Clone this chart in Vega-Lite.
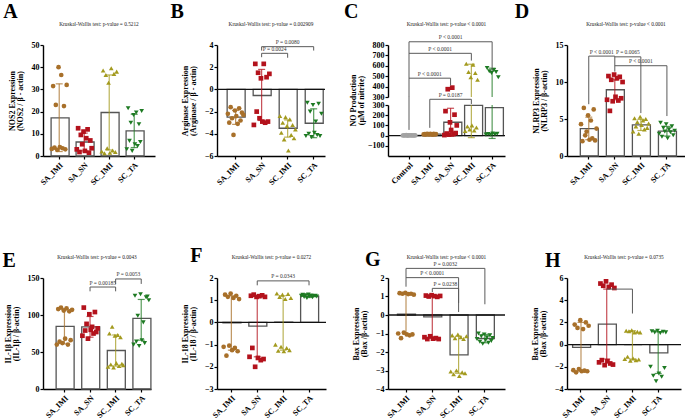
{
  "$schema": "https://vega.github.io/schema/vega-lite/v6.json",
  "background": "white",
  "padding": {"left": 2, "top": 2, "right": 0, "bottom": 0},
  "columns": 4,
  "align": "none",
  "bounds": "flush",
  "spacing": {"row": 122, "column": 62},
  "resolve": {"scale": {"xOffset": "independent"}},
  "datasets": {
    "summary": [
      {"panel": "A", "group": "SA_IMI", "mean": 17.2, "lo": 2.0, "hi": 32.5},
      {"panel": "A", "group": "SA_SN", "mean": 6.3, "lo": 2.3, "hi": 10.3},
      {"panel": "A", "group": "SC_IMI", "mean": 19.6, "lo": 2.7, "hi": 36.5},
      {"panel": "A", "group": "SC_TA", "mean": 11.3, "lo": 3.8, "hi": 18.8},
      {"panel": "B", "group": "SA_IMI", "mean": -2.5, "lo": -3.15, "hi": -1.9},
      {"panel": "B", "group": "SA_SN", "mean": -0.55, "lo": -2.8, "hi": 1.8},
      {"panel": "B", "group": "SC_IMI", "mean": -3.5, "lo": -4.3, "hi": -2.75},
      {"panel": "B", "group": "SC_TA", "mean": -3.05, "lo": -4.35, "hi": -1.75},
      {"panel": "C", "group": "Control", "mean": 2, "lo": 1, "hi": 3},
      {"panel": "C", "group": "SA_IMI", "mean": 13.5, "lo": 11, "hi": 16},
      {"panel": "C", "group": "SA_SN", "mean": 131, "lo": -6, "hi": 268},
      {"panel": "C", "group": "SC_IMI", "mean": 297, "lo": -20, "hi": 615},
      {"panel": "C", "group": "SC_TA", "mean": 274, "lo": -28, "hi": 577},
      {"panel": "D", "group": "SA_IMI", "mean": 3.7, "lo": 2.2, "hi": 5.25},
      {"panel": "D", "group": "SA_SN", "mean": 8.95, "lo": 7.6, "hi": 10.3},
      {"panel": "D", "group": "SC_IMI", "mean": 4.2, "lo": 3.45, "hi": 4.95},
      {"panel": "D", "group": "SC_TA", "mean": 3.35, "lo": 2.7, "hi": 4.0},
      {"panel": "E", "group": "SA_IMI", "mean": 84.5, "lo": 61, "hi": 108.5},
      {"panel": "E", "group": "SA_SN", "mean": 84, "lo": 70, "hi": 98},
      {"panel": "E", "group": "SC_IMI", "mean": 52, "lo": 31, "hi": 73},
      {"panel": "E", "group": "SC_TA", "mean": 95.5, "lo": 66, "hi": 121},
      {"panel": "F", "group": "SA_IMI", "mean": -0.02, "lo": -1.25, "hi": 1.2},
      {"panel": "F", "group": "SA_SN", "mean": -0.17, "lo": -1.55, "hi": 1.2},
      {"panel": "F", "group": "SC_IMI", "mean": 0.01, "lo": -1.25, "hi": 1.2},
      {"panel": "F", "group": "SC_TA", "mean": 1.18, "lo": 1.12, "hi": 1.24},
      {"panel": "G", "group": "SA_IMI", "mean": 0.05, "lo": -1.05, "hi": 1.15},
      {"panel": "G", "group": "SA_SN", "mean": -0.1, "lo": -1.25, "hi": 1.05},
      {"panel": "G", "group": "SC_IMI", "mean": -2.15, "lo": -3.15, "hi": -1.15},
      {"panel": "G", "group": "SC_TA", "mean": -1.27, "lo": -1.5, "hi": -1.05},
      {"panel": "H", "group": "SA_IMI", "mean": -0.25, "lo": -2.4, "hi": 2.0},
      {"panel": "H", "group": "SA_SN", "mean": 1.85, "lo": -1.3, "hi": 5.0},
      {"panel": "H", "group": "SC_IMI", "mean": 0.0, "lo": -1.3, "hi": 1.25},
      {"panel": "H", "group": "SC_TA", "mean": -0.75, "lo": -2.6, "hi": 1.15}
    ],
    "points": [
      {"panel": "A", "group": "SA_IMI", "value": 3.2}, {"panel": "A", "group": "SA_IMI", "value": 31.5}, {"panel": "A", "group": "SA_IMI", "value": 3.8}, {"panel": "A", "group": "SA_IMI", "value": 23}, {"panel": "A", "group": "SA_IMI", "value": 2.8}, {"panel": "A", "group": "SA_IMI", "value": 40}, {"panel": "A", "group": "SA_IMI", "value": 4.0}, {"panel": "A", "group": "SA_IMI", "value": 36.5}, {"panel": "A", "group": "SA_IMI", "value": 3.5}, {"panel": "A", "group": "SA_IMI", "value": 22.5}, {"panel": "A", "group": "SA_IMI", "value": 3.0}, {"panel": "A", "group": "SA_IMI", "value": 32},
      {"panel": "A", "group": "SA_SN", "value": 3}, {"panel": "A", "group": "SA_SN", "value": 12.5}, {"panel": "A", "group": "SA_SN", "value": 1.8}, {"panel": "A", "group": "SA_SN", "value": 9.5}, {"panel": "A", "group": "SA_SN", "value": 5.3}, {"panel": "A", "group": "SA_SN", "value": 11}, {"panel": "A", "group": "SA_SN", "value": 2.3}, {"panel": "A", "group": "SA_SN", "value": 8}, {"panel": "A", "group": "SA_SN", "value": 12}, {"panel": "A", "group": "SA_SN", "value": 1.5}, {"panel": "A", "group": "SA_SN", "value": 7}, {"panel": "A", "group": "SA_SN", "value": 3.5},
      {"panel": "A", "group": "SC_IMI", "value": 2.0}, {"panel": "A", "group": "SC_IMI", "value": 38.5}, {"panel": "A", "group": "SC_IMI", "value": 1.2}, {"panel": "A", "group": "SC_IMI", "value": 36.5}, {"panel": "A", "group": "SC_IMI", "value": 3.5}, {"panel": "A", "group": "SC_IMI", "value": 33}, {"panel": "A", "group": "SC_IMI", "value": 1.5}, {"panel": "A", "group": "SC_IMI", "value": 39.5}, {"panel": "A", "group": "SC_IMI", "value": 2.5}, {"panel": "A", "group": "SC_IMI", "value": 37}, {"panel": "A", "group": "SC_IMI", "value": 1.8}, {"panel": "A", "group": "SC_IMI", "value": 38},
      {"panel": "A", "group": "SC_TA", "value": 3.0}, {"panel": "A", "group": "SC_TA", "value": 21.5}, {"panel": "A", "group": "SC_TA", "value": 6.8}, {"panel": "A", "group": "SC_TA", "value": 15}, {"panel": "A", "group": "SC_TA", "value": 2.3}, {"panel": "A", "group": "SC_TA", "value": 18.5}, {"panel": "A", "group": "SC_TA", "value": 5.3}, {"panel": "A", "group": "SC_TA", "value": 19.6}, {"panel": "A", "group": "SC_TA", "value": 4.5}, {"panel": "A", "group": "SC_TA", "value": 14.3}, {"panel": "A", "group": "SC_TA", "value": 6.3}, {"panel": "A", "group": "SC_TA", "value": 20.3},
      {"panel": "B", "group": "SA_IMI", "value": -2.2}, {"panel": "B", "group": "SA_IMI", "value": -3.0}, {"panel": "B", "group": "SA_IMI", "value": -1.6}, {"panel": "B", "group": "SA_IMI", "value": -2.6}, {"panel": "B", "group": "SA_IMI", "value": -4.1}, {"panel": "B", "group": "SA_IMI", "value": -1.9}, {"panel": "B", "group": "SA_IMI", "value": -2.4}, {"panel": "B", "group": "SA_IMI", "value": -3.1}, {"panel": "B", "group": "SA_IMI", "value": -1.7}, {"panel": "B", "group": "SA_IMI", "value": -2.8}, {"panel": "B", "group": "SA_IMI", "value": -2.1}, {"panel": "B", "group": "SA_IMI", "value": -2.3},
      {"panel": "B", "group": "SA_SN", "value": -3.2}, {"panel": "B", "group": "SA_SN", "value": 2.3}, {"panel": "B", "group": "SA_SN", "value": -2.0}, {"panel": "B", "group": "SA_SN", "value": 1.5}, {"panel": "B", "group": "SA_SN", "value": -2.6}, {"panel": "B", "group": "SA_SN", "value": 1.0}, {"panel": "B", "group": "SA_SN", "value": -2.9}, {"panel": "B", "group": "SA_SN", "value": 2.3}, {"panel": "B", "group": "SA_SN", "value": -3.0}, {"panel": "B", "group": "SA_SN", "value": 1.1}, {"panel": "B", "group": "SA_SN", "value": -2.9}, {"panel": "B", "group": "SA_SN", "value": 1.4},
      {"panel": "B", "group": "SC_IMI", "value": -2.4}, {"panel": "B", "group": "SC_IMI", "value": -3.9}, {"panel": "B", "group": "SC_IMI", "value": -3.0}, {"panel": "B", "group": "SC_IMI", "value": -4.5}, {"panel": "B", "group": "SC_IMI", "value": -2.5}, {"panel": "B", "group": "SC_IMI", "value": -3.3}, {"panel": "B", "group": "SC_IMI", "value": -5.5}, {"panel": "B", "group": "SC_IMI", "value": -2.7}, {"panel": "B", "group": "SC_IMI", "value": -4.1}, {"panel": "B", "group": "SC_IMI", "value": -3.2}, {"panel": "B", "group": "SC_IMI", "value": -4.4}, {"panel": "B", "group": "SC_IMI", "value": -3.6},
      {"panel": "B", "group": "SC_TA", "value": -4.2}, {"panel": "B", "group": "SC_TA", "value": -1.2}, {"panel": "B", "group": "SC_TA", "value": -4.0}, {"panel": "B", "group": "SC_TA", "value": -2.0}, {"panel": "B", "group": "SC_TA", "value": -4.3}, {"panel": "B", "group": "SC_TA", "value": -1.4}, {"panel": "B", "group": "SC_TA", "value": -3.9}, {"panel": "B", "group": "SC_TA", "value": -2.9}, {"panel": "B", "group": "SC_TA", "value": -4.1}, {"panel": "B", "group": "SC_TA", "value": -1.3}, {"panel": "B", "group": "SC_TA", "value": -4.2}, {"panel": "B", "group": "SC_TA", "value": -2.2},
      {"panel": "C", "group": "Control", "value": 1}, {"panel": "C", "group": "Control", "value": 3}, {"panel": "C", "group": "Control", "value": 2}, {"panel": "C", "group": "Control", "value": 4}, {"panel": "C", "group": "Control", "value": 0.5}, {"panel": "C", "group": "Control", "value": 2.5}, {"panel": "C", "group": "Control", "value": 1.5}, {"panel": "C", "group": "Control", "value": 3.5}, {"panel": "C", "group": "Control", "value": 2}, {"panel": "C", "group": "Control", "value": 1}, {"panel": "C", "group": "Control", "value": 3}, {"panel": "C", "group": "Control", "value": 2},
      {"panel": "C", "group": "SA_IMI", "value": 12}, {"panel": "C", "group": "SA_IMI", "value": 15}, {"panel": "C", "group": "SA_IMI", "value": 10}, {"panel": "C", "group": "SA_IMI", "value": 18}, {"panel": "C", "group": "SA_IMI", "value": 14}, {"panel": "C", "group": "SA_IMI", "value": 11}, {"panel": "C", "group": "SA_IMI", "value": 16}, {"panel": "C", "group": "SA_IMI", "value": 13}, {"panel": "C", "group": "SA_IMI", "value": 9}, {"panel": "C", "group": "SA_IMI", "value": 17}, {"panel": "C", "group": "SA_IMI", "value": 12}, {"panel": "C", "group": "SA_IMI", "value": 15},
      {"panel": "C", "group": "SA_SN", "value": 5}, {"panel": "C", "group": "SA_SN", "value": 240}, {"panel": "C", "group": "SA_SN", "value": 20}, {"panel": "C", "group": "SA_SN", "value": 375}, {"panel": "C", "group": "SA_SN", "value": 10}, {"panel": "C", "group": "SA_SN", "value": 130}, {"panel": "C", "group": "SA_SN", "value": 55}, {"panel": "C", "group": "SA_SN", "value": 390}, {"panel": "C", "group": "SA_SN", "value": 15}, {"panel": "C", "group": "SA_SN", "value": 205}, {"panel": "C", "group": "SA_SN", "value": 25}, {"panel": "C", "group": "SA_SN", "value": 100},
      {"panel": "C", "group": "SC_IMI", "value": 45}, {"panel": "C", "group": "SC_IMI", "value": 620}, {"panel": "C", "group": "SC_IMI", "value": 90}, {"panel": "C", "group": "SC_IMI", "value": 540}, {"panel": "C", "group": "SC_IMI", "value": 60}, {"panel": "C", "group": "SC_IMI", "value": 490}, {"panel": "C", "group": "SC_IMI", "value": 100}, {"panel": "C", "group": "SC_IMI", "value": 610}, {"panel": "C", "group": "SC_IMI", "value": 50}, {"panel": "C", "group": "SC_IMI", "value": 530}, {"panel": "C", "group": "SC_IMI", "value": 80}, {"panel": "C", "group": "SC_IMI", "value": 465},
      {"panel": "C", "group": "SC_TA", "value": 10}, {"panel": "C", "group": "SC_TA", "value": 578}, {"panel": "C", "group": "SC_TA", "value": 15}, {"panel": "C", "group": "SC_TA", "value": 548}, {"panel": "C", "group": "SC_TA", "value": 8}, {"panel": "C", "group": "SC_TA", "value": 530}, {"panel": "C", "group": "SC_TA", "value": 20}, {"panel": "C", "group": "SC_TA", "value": 560}, {"panel": "C", "group": "SC_TA", "value": 12}, {"panel": "C", "group": "SC_TA", "value": 540}, {"panel": "C", "group": "SC_TA", "value": 18}, {"panel": "C", "group": "SC_TA", "value": 490},
      {"panel": "D", "group": "SA_IMI", "value": 4.3}, {"panel": "D", "group": "SA_IMI", "value": 2.0}, {"panel": "D", "group": "SA_IMI", "value": 6.5}, {"panel": "D", "group": "SA_IMI", "value": 2.8}, {"panel": "D", "group": "SA_IMI", "value": 3.3}, {"panel": "D", "group": "SA_IMI", "value": 5.5}, {"panel": "D", "group": "SA_IMI", "value": 2.2}, {"panel": "D", "group": "SA_IMI", "value": 4.8}, {"panel": "D", "group": "SA_IMI", "value": 2.4}, {"panel": "D", "group": "SA_IMI", "value": 6.3}, {"panel": "D", "group": "SA_IMI", "value": 2.1}, {"panel": "D", "group": "SA_IMI", "value": 3.7},
      {"panel": "D", "group": "SA_SN", "value": 7.6}, {"panel": "D", "group": "SA_SN", "value": 10.8}, {"panel": "D", "group": "SA_SN", "value": 6.1}, {"panel": "D", "group": "SA_SN", "value": 10.3}, {"panel": "D", "group": "SA_SN", "value": 7.4}, {"panel": "D", "group": "SA_SN", "value": 11.0}, {"panel": "D", "group": "SA_SN", "value": 8.0}, {"panel": "D", "group": "SA_SN", "value": 10.5}, {"panel": "D", "group": "SA_SN", "value": 7.5}, {"panel": "D", "group": "SA_SN", "value": 10.7}, {"panel": "D", "group": "SA_SN", "value": 7.8}, {"panel": "D", "group": "SA_SN", "value": 10.0},
      {"panel": "D", "group": "SC_IMI", "value": 3.3}, {"panel": "D", "group": "SC_IMI", "value": 5.1}, {"panel": "D", "group": "SC_IMI", "value": 4.0}, {"panel": "D", "group": "SC_IMI", "value": 4.6}, {"panel": "D", "group": "SC_IMI", "value": 3.0}, {"panel": "D", "group": "SC_IMI", "value": 5.3}, {"panel": "D", "group": "SC_IMI", "value": 4.2}, {"panel": "D", "group": "SC_IMI", "value": 4.8}, {"panel": "D", "group": "SC_IMI", "value": 3.6}, {"panel": "D", "group": "SC_IMI", "value": 5.0}, {"panel": "D", "group": "SC_IMI", "value": 3.8}, {"panel": "D", "group": "SC_IMI", "value": 4.4},
      {"panel": "D", "group": "SC_TA", "value": 3.0}, {"panel": "D", "group": "SC_TA", "value": 4.5}, {"panel": "D", "group": "SC_TA", "value": 2.6}, {"panel": "D", "group": "SC_TA", "value": 3.8}, {"panel": "D", "group": "SC_TA", "value": 3.3}, {"panel": "D", "group": "SC_TA", "value": 4.3}, {"panel": "D", "group": "SC_TA", "value": 2.4}, {"panel": "D", "group": "SC_TA", "value": 3.6}, {"panel": "D", "group": "SC_TA", "value": 3.2}, {"panel": "D", "group": "SC_TA", "value": 4.0}, {"panel": "D", "group": "SC_TA", "value": 2.8}, {"panel": "D", "group": "SC_TA", "value": 3.4},
      {"panel": "E", "group": "SA_IMI", "value": 60}, {"panel": "E", "group": "SA_IMI", "value": 108}, {"panel": "E", "group": "SA_IMI", "value": 64}, {"panel": "E", "group": "SA_IMI", "value": 110}, {"panel": "E", "group": "SA_IMI", "value": 62}, {"panel": "E", "group": "SA_IMI", "value": 106}, {"panel": "E", "group": "SA_IMI", "value": 68}, {"panel": "E", "group": "SA_IMI", "value": 109}, {"panel": "E", "group": "SA_IMI", "value": 60}, {"panel": "E", "group": "SA_IMI", "value": 105}, {"panel": "E", "group": "SA_IMI", "value": 66}, {"panel": "E", "group": "SA_IMI", "value": 107},
      {"panel": "E", "group": "SA_SN", "value": 72}, {"panel": "E", "group": "SA_SN", "value": 110}, {"panel": "E", "group": "SA_SN", "value": 79}, {"panel": "E", "group": "SA_SN", "value": 88}, {"panel": "E", "group": "SA_SN", "value": 68}, {"panel": "E", "group": "SA_SN", "value": 101}, {"panel": "E", "group": "SA_SN", "value": 80}, {"panel": "E", "group": "SA_SN", "value": 84}, {"panel": "E", "group": "SA_SN", "value": 75}, {"panel": "E", "group": "SA_SN", "value": 104}, {"panel": "E", "group": "SA_SN", "value": 77}, {"panel": "E", "group": "SA_SN", "value": 82},
      {"panel": "E", "group": "SC_IMI", "value": 30}, {"panel": "E", "group": "SC_IMI", "value": 75}, {"panel": "E", "group": "SC_IMI", "value": 33}, {"panel": "E", "group": "SC_IMI", "value": 84}, {"panel": "E", "group": "SC_IMI", "value": 29}, {"panel": "E", "group": "SC_IMI", "value": 72}, {"panel": "E", "group": "SC_IMI", "value": 35}, {"panel": "E", "group": "SC_IMI", "value": 73}, {"panel": "E", "group": "SC_IMI", "value": 31}, {"panel": "E", "group": "SC_IMI", "value": 70}, {"panel": "E", "group": "SC_IMI", "value": 34}, {"panel": "E", "group": "SC_IMI", "value": 32},
      {"panel": "E", "group": "SC_TA", "value": 60}, {"panel": "E", "group": "SC_TA", "value": 126}, {"panel": "E", "group": "SC_TA", "value": 64}, {"panel": "E", "group": "SC_TA", "value": 99}, {"panel": "E", "group": "SC_TA", "value": 58}, {"panel": "E", "group": "SC_TA", "value": 128}, {"panel": "E", "group": "SC_TA", "value": 66}, {"panel": "E", "group": "SC_TA", "value": 90}, {"panel": "E", "group": "SC_TA", "value": 62}, {"panel": "E", "group": "SC_TA", "value": 124}, {"panel": "E", "group": "SC_TA", "value": 125}, {"panel": "E", "group": "SC_TA", "value": 120},
      {"panel": "F", "group": "SA_IMI", "value": -1.1}, {"panel": "F", "group": "SA_IMI", "value": 1.25}, {"panel": "F", "group": "SA_IMI", "value": -1.5}, {"panel": "F", "group": "SA_IMI", "value": 1.15}, {"panel": "F", "group": "SA_IMI", "value": -1.05}, {"panel": "F", "group": "SA_IMI", "value": 1.3}, {"panel": "F", "group": "SA_IMI", "value": -1.25}, {"panel": "F", "group": "SA_IMI", "value": 1.1}, {"panel": "F", "group": "SA_IMI", "value": -1.15}, {"panel": "F", "group": "SA_IMI", "value": 1.2}, {"panel": "F", "group": "SA_IMI", "value": -1.3}, {"panel": "F", "group": "SA_IMI", "value": 1.05},
      {"panel": "F", "group": "SA_SN", "value": -1.55}, {"panel": "F", "group": "SA_SN", "value": 1.2}, {"panel": "F", "group": "SA_SN", "value": -1.15}, {"panel": "F", "group": "SA_SN", "value": 1.25}, {"panel": "F", "group": "SA_SN", "value": -2.0}, {"panel": "F", "group": "SA_SN", "value": 1.15}, {"panel": "F", "group": "SA_SN", "value": -1.6}, {"panel": "F", "group": "SA_SN", "value": 1.18}, {"panel": "F", "group": "SA_SN", "value": -1.7}, {"panel": "F", "group": "SA_SN", "value": 1.22}, {"panel": "F", "group": "SA_SN", "value": -1.65}, {"panel": "F", "group": "SA_SN", "value": 1.15},
      {"panel": "F", "group": "SC_IMI", "value": -1.0}, {"panel": "F", "group": "SC_IMI", "value": 1.3}, {"panel": "F", "group": "SC_IMI", "value": -1.28}, {"panel": "F", "group": "SC_IMI", "value": 1.15}, {"panel": "F", "group": "SC_IMI", "value": -1.1}, {"panel": "F", "group": "SC_IMI", "value": 1.25}, {"panel": "F", "group": "SC_IMI", "value": -1.3}, {"panel": "F", "group": "SC_IMI", "value": 1.05}, {"panel": "F", "group": "SC_IMI", "value": -1.15}, {"panel": "F", "group": "SC_IMI", "value": 1.28}, {"panel": "F", "group": "SC_IMI", "value": -1.25}, {"panel": "F", "group": "SC_IMI", "value": 1.1},
      {"panel": "F", "group": "SC_TA", "value": 1.2}, {"panel": "F", "group": "SC_TA", "value": 1.24}, {"panel": "F", "group": "SC_TA", "value": 1.15}, {"panel": "F", "group": "SC_TA", "value": 1.22}, {"panel": "F", "group": "SC_TA", "value": 1.1}, {"panel": "F", "group": "SC_TA", "value": 1.25}, {"panel": "F", "group": "SC_TA", "value": 1.18}, {"panel": "F", "group": "SC_TA", "value": 1.21}, {"panel": "F", "group": "SC_TA", "value": 1.13}, {"panel": "F", "group": "SC_TA", "value": 1.19}, {"panel": "F", "group": "SC_TA", "value": 1.2}, {"panel": "F", "group": "SC_TA", "value": 1.17},
      {"panel": "G", "group": "SA_IMI", "value": -1.0}, {"panel": "G", "group": "SA_IMI", "value": 1.18}, {"panel": "G", "group": "SA_IMI", "value": -1.25}, {"panel": "G", "group": "SA_IMI", "value": 1.15}, {"panel": "G", "group": "SA_IMI", "value": -0.95}, {"panel": "G", "group": "SA_IMI", "value": 1.2}, {"panel": "G", "group": "SA_IMI", "value": -1.05}, {"panel": "G", "group": "SA_IMI", "value": 1.13}, {"panel": "G", "group": "SA_IMI", "value": -1.1}, {"panel": "G", "group": "SA_IMI", "value": 1.15}, {"panel": "G", "group": "SA_IMI", "value": -1.05}, {"panel": "G", "group": "SA_IMI", "value": 1.1},
      {"panel": "G", "group": "SA_SN", "value": -1.2}, {"panel": "G", "group": "SA_SN", "value": 1.05}, {"panel": "G", "group": "SA_SN", "value": -1.3}, {"panel": "G", "group": "SA_SN", "value": 1.0}, {"panel": "G", "group": "SA_SN", "value": -1.15}, {"panel": "G", "group": "SA_SN", "value": 1.07}, {"panel": "G", "group": "SA_SN", "value": -1.28}, {"panel": "G", "group": "SA_SN", "value": 1.02}, {"panel": "G", "group": "SA_SN", "value": -1.25}, {"panel": "G", "group": "SA_SN", "value": 0.98}, {"panel": "G", "group": "SA_SN", "value": -1.3}, {"panel": "G", "group": "SA_SN", "value": 1.03},
      {"panel": "G", "group": "SC_IMI", "value": -3.05}, {"panel": "G", "group": "SC_IMI", "value": -1.1}, {"panel": "G", "group": "SC_IMI", "value": -3.2}, {"panel": "G", "group": "SC_IMI", "value": -1.25}, {"panel": "G", "group": "SC_IMI", "value": -3.0}, {"panel": "G", "group": "SC_IMI", "value": -1.05}, {"panel": "G", "group": "SC_IMI", "value": -3.3}, {"panel": "G", "group": "SC_IMI", "value": -1.2}, {"panel": "G", "group": "SC_IMI", "value": -3.1}, {"panel": "G", "group": "SC_IMI", "value": -1.3}, {"panel": "G", "group": "SC_IMI", "value": -3.15}, {"panel": "G", "group": "SC_IMI", "value": -1.15},
      {"panel": "G", "group": "SC_TA", "value": -1.3}, {"panel": "G", "group": "SC_TA", "value": -1.0}, {"panel": "G", "group": "SC_TA", "value": -1.45}, {"panel": "G", "group": "SC_TA", "value": -1.15}, {"panel": "G", "group": "SC_TA", "value": -1.55}, {"panel": "G", "group": "SC_TA", "value": -1.05}, {"panel": "G", "group": "SC_TA", "value": -1.35}, {"panel": "G", "group": "SC_TA", "value": -1.2}, {"panel": "G", "group": "SC_TA", "value": -1.5}, {"panel": "G", "group": "SC_TA", "value": -1.1}, {"panel": "G", "group": "SC_TA", "value": -1.4}, {"panel": "G", "group": "SC_TA", "value": -1.25},
      {"panel": "H", "group": "SA_IMI", "value": -2.3}, {"panel": "H", "group": "SA_IMI", "value": 1.8}, {"panel": "H", "group": "SA_IMI", "value": -2.5}, {"panel": "H", "group": "SA_IMI", "value": 1.5}, {"panel": "H", "group": "SA_IMI", "value": -2.2}, {"panel": "H", "group": "SA_IMI", "value": 2.2}, {"panel": "H", "group": "SA_IMI", "value": -2.4}, {"panel": "H", "group": "SA_IMI", "value": 1.4}, {"panel": "H", "group": "SA_IMI", "value": -2.35}, {"panel": "H", "group": "SA_IMI", "value": 2.0}, {"panel": "H", "group": "SA_IMI", "value": -2.4}, {"panel": "H", "group": "SA_IMI", "value": 1.7},
      {"panel": "H", "group": "SA_SN", "value": -1.6}, {"panel": "H", "group": "SA_SN", "value": 5.5}, {"panel": "H", "group": "SA_SN", "value": -1.4}, {"panel": "H", "group": "SA_SN", "value": 5.3}, {"panel": "H", "group": "SA_SN", "value": -1.85}, {"panel": "H", "group": "SA_SN", "value": 5.7}, {"panel": "H", "group": "SA_SN", "value": -1.5}, {"panel": "H", "group": "SA_SN", "value": 5.2}, {"panel": "H", "group": "SA_SN", "value": -1.7}, {"panel": "H", "group": "SA_SN", "value": 5.4}, {"panel": "H", "group": "SA_SN", "value": -1.8}, {"panel": "H", "group": "SA_SN", "value": 5.1},
      {"panel": "H", "group": "SC_IMI", "value": -1.3}, {"panel": "H", "group": "SC_IMI", "value": 1.25}, {"panel": "H", "group": "SC_IMI", "value": -1.1}, {"panel": "H", "group": "SC_IMI", "value": 1.2}, {"panel": "H", "group": "SC_IMI", "value": -1.45}, {"panel": "H", "group": "SC_IMI", "value": 1.3}, {"panel": "H", "group": "SC_IMI", "value": -1.25}, {"panel": "H", "group": "SC_IMI", "value": 1.1}, {"panel": "H", "group": "SC_IMI", "value": -1.4}, {"panel": "H", "group": "SC_IMI", "value": 1.15}, {"panel": "H", "group": "SC_IMI", "value": -1.35}, {"panel": "H", "group": "SC_IMI", "value": 1.1},
      {"panel": "H", "group": "SC_TA", "value": -2.0}, {"panel": "H", "group": "SC_TA", "value": 1.2}, {"panel": "H", "group": "SC_TA", "value": -2.8}, {"panel": "H", "group": "SC_TA", "value": 1.1}, {"panel": "H", "group": "SC_TA", "value": -3.3}, {"panel": "H", "group": "SC_TA", "value": 1.25}, {"panel": "H", "group": "SC_TA", "value": -2.6}, {"panel": "H", "group": "SC_TA", "value": 1.05}, {"panel": "H", "group": "SC_TA", "value": -2.9}, {"panel": "H", "group": "SC_TA", "value": 1.15}, {"panel": "H", "group": "SC_TA", "value": -2.1}, {"panel": "H", "group": "SC_TA", "value": 1.1}
    ],
    "spans": [
      {"panel": "B", "seg": "main", "from": "SA_SN", "to": "SC_IMI", "y": 3.25, "span": 1, "label": "P = 0.0024"},
      {"panel": "B", "seg": "main", "from": "SA_SN", "to": "SC_TA", "y": 3.85, "span": 2, "label": "P = 0.0080"},
      {"panel": "C", "seg": "upper", "from": "Control", "to": "SC_TA", "y": 831, "span": 4, "label": "P < 0.0001"},
      {"panel": "C", "seg": "upper", "from": "Control", "to": "SC_IMI", "y": 720, "span": 3, "label": "P < 0.0001"},
      {"panel": "C", "seg": "upper", "from": "Control", "to": "SA_SN", "y": 481, "span": 2, "label": "P < 0.0001"},
      {"panel": "C", "seg": "lower", "from": "SA_IMI", "to": "SC_IMI", "y": 356, "span": 2, "label": "P = 0.0187"},
      {"panel": "D", "seg": "main", "from": "SA_IMI", "to": "SA_SN", "y": 13.5, "span": 1, "label": "P < 0.0001"},
      {"panel": "D", "seg": "main", "from": "SA_SN", "to": "SC_IMI", "y": 13.4, "span": 1, "label": "P = 0.0065"},
      {"panel": "D", "seg": "main", "from": "SA_SN", "to": "SC_TA", "y": 12.2, "span": 2, "label": "P < 0.0001"},
      {"panel": "E", "seg": "main", "from": "SA_SN", "to": "SC_IMI", "y": 137.8, "span": 1, "label": "P = 0.00185"},
      {"panel": "E", "seg": "main", "from": "SC_IMI", "to": "SC_TA", "y": 148.7, "span": 1, "label": "P = 0.0053"},
      {"panel": "F", "seg": "main", "from": "SA_SN", "to": "SC_TA", "y": 1.87, "span": 2, "label": "P = 0.0343"},
      {"panel": "G", "seg": "main", "from": "SA_IMI", "to": "SC_TA", "y": 2.52, "span": 3, "label": "P = 0.0032"},
      {"panel": "G", "seg": "main", "from": "SA_IMI", "to": "SC_IMI", "y": 2.02, "span": 2, "label": "P < 0.0001"},
      {"panel": "G", "seg": "main", "from": "SA_SN", "to": "SC_IMI", "y": 1.44, "span": 1, "label": "P = 0.0238"},
      {"panel": "H", "seg": "main", "from": "SA_SN", "to": "SC_IMI", "y": 5.0, "span": 1, "label": ""}
    ],
    "legs": [
      {"panel": "B", "seg": "main", "group": "SA_SN", "top": 3.25, "bottom": 2.9},
      {"panel": "B", "seg": "main", "group": "SC_IMI", "top": 3.25, "bottom": 2.85},
      {"panel": "B", "seg": "main", "group": "SA_SN", "top": 3.85, "bottom": 3.5},
      {"panel": "B", "seg": "main", "group": "SC_TA", "top": 3.85, "bottom": 3.5},
      {"panel": "C", "seg": "upper", "group": "Control", "top": 831, "bottom": 300},
      {"panel": "C", "seg": "upper", "group": "SC_TA", "top": 831, "bottom": 555},
      {"panel": "C", "seg": "upper", "group": "SC_IMI", "top": 720, "bottom": 650},
      {"panel": "C", "seg": "upper", "group": "SA_SN", "top": 481, "bottom": 412},
      {"panel": "C", "seg": "lower", "group": "Control", "top": 380, "bottom": 56},
      {"panel": "C", "seg": "lower", "group": "SA_IMI", "top": 356, "bottom": 76},
      {"panel": "C", "seg": "lower", "group": "SC_IMI", "top": 356, "bottom": 310},
      {"panel": "D", "seg": "main", "group": "SA_IMI", "top": 13.5, "bottom": 7.0},
      {"panel": "D", "seg": "main", "group": "SA_SN", "top": 13.5, "bottom": 11.4},
      {"panel": "D", "seg": "main", "group": "SC_IMI", "top": 13.4, "bottom": 5.8},
      {"panel": "D", "seg": "main", "group": "SC_TA", "top": 12.2, "bottom": 5.4},
      {"panel": "E", "seg": "main", "group": "SA_SN", "top": 137.8, "bottom": 132},
      {"panel": "E", "seg": "main", "group": "SC_IMI", "top": 137.8, "bottom": 132},
      {"panel": "E", "seg": "main", "group": "SC_IMI", "top": 148.7, "bottom": 142},
      {"panel": "E", "seg": "main", "group": "SC_TA", "top": 148.7, "bottom": 142},
      {"panel": "F", "seg": "main", "group": "SA_SN", "top": 1.87, "bottom": 1.67},
      {"panel": "F", "seg": "main", "group": "SC_TA", "top": 1.87, "bottom": 1.67},
      {"panel": "G", "seg": "main", "group": "SA_IMI", "top": 2.52, "bottom": 1.53},
      {"panel": "G", "seg": "main", "group": "SC_TA", "top": 2.52, "bottom": 0.58},
      {"panel": "G", "seg": "main", "group": "SC_IMI", "top": 2.02, "bottom": 0.65},
      {"panel": "G", "seg": "main", "group": "SA_SN", "top": 1.44, "bottom": 1.24},
      {"panel": "G", "seg": "main", "group": "SC_IMI", "top": 1.44, "bottom": 0.16},
      {"panel": "H", "seg": "main", "group": "SC_IMI", "top": 5.0, "bottom": 2.8}
    ],
    "letters": [
      {"panel": "A", "group": "SA_IMI", "letter": "A"},
      {"panel": "B", "group": "SA_IMI", "letter": "B"},
      {"panel": "C", "group": "Control", "letter": "C"},
      {"panel": "D", "group": "SA_IMI", "letter": "D"},
      {"panel": "E", "group": "SA_IMI", "letter": "E"},
      {"panel": "F", "group": "SA_IMI", "letter": "F"},
      {"panel": "G", "group": "SA_IMI", "letter": "G"},
      {"panel": "H", "group": "SA_IMI", "letter": "H"}
    ]
  },
  "concat": [
    {
      "width": 112, "height": 111,
      "title": {"text": "Kruskal-Wallis test: p-value = 0.5212", "dy": 29.5},
      "layer": [
        {"data": {"name": "summary"}, "transform": [{"filter": "datum.panel === 'A'"}],
         "mark": {"type": "bar", "filled": false, "stroke": "#555555", "strokeWidth": 1.3},
         "encoding": {
           "x": {"field": "group", "type": "nominal", "scale": {"domain": ["SA_IMI", "SA_SN", "SC_IMI", "SC_TA"], "paddingInner": 0.35, "paddingOuter": 0.415, "align": 0.39}, "axis": {"title": null}},
           "y": {"field": "mean", "type": "quantitative", "scale": {"domain": [0, 50], "nice": false, "zero": false}, "axis": {"values": [0, 10, 20, 30, 40, 50], "labelOverlap": false, "title": ["NOS2 Expression", "(NOS2 / β - actin)"]}},
           "y2": {"datum": 0}}},
        {"data": {"name": "summary"}, "transform": [{"filter": "datum.panel === 'A'"}],
         "mark": {"type": "rule", "strokeWidth": 1.2, "opacity": 0.75},
         "encoding": {"x": {"field": "group", "type": "nominal"}, "y": {"field": "lo", "type": "quantitative", "axis": {"values": [0, 10, 20, 30, 40, 50], "labelOverlap": false, "title": ["NOS2 Expression", "(NOS2 / β - actin)"]}}, "y2": {"field": "hi"},
           "color": {"field": "group", "type": "nominal", "scale": {"domain": ["Control", "SA_IMI", "SA_SN", "SC_IMI", "SC_TA"], "range": ["#A3A3A3", "#A8702A", "#B3121C", "#A39A1E", "#1D7A22"]}, "legend": null}}},
        {"data": {"name": "summary"}, "transform": [{"filter": "datum.panel === 'A'"}, {"fold": ["lo", "hi"], "as": ["end", "level"]}],
         "mark": {"type": "tick", "size": 7, "thickness": 1.2, "opacity": 0.75},
         "encoding": {"x": {"field": "group", "type": "nominal"}, "y": {"field": "level", "type": "quantitative", "axis": {"values": [0, 10, 20, 30, 40, 50], "labelOverlap": false, "title": ["NOS2 Expression", "(NOS2 / β - actin)"]}},
           "color": {"field": "group", "type": "nominal", "legend": null}}},
        {"data": {"name": "points"}, "transform": [{"filter": "datum.panel === 'A'"}, {"window": [{"op": "row_number", "as": "rep"}], "groupby": ["group"]}],
         "mark": {"type": "point", "filled": true, "size": 22, "opacity": 1},
         "encoding": {"x": {"field": "group", "type": "nominal"}, "xOffset": {"field": "rep", "type": "ordinal"},
           "y": {"field": "value", "type": "quantitative", "axis": {"values": [0, 10, 20, 30, 40, 50], "labelOverlap": false, "title": ["NOS2 Expression", "(NOS2 / β - actin)"]}},
           "color": {"field": "group", "type": "nominal", "legend": null},
           "shape": {"field": "group", "type": "nominal", "scale": {"domain": ["Control", "SA_IMI", "SA_SN", "SC_IMI", "SC_TA"], "range": ["circle", "circle", "square", "triangle-up", "triangle-down"]}, "legend": null}}},
        {"data": {"name": "letters"}, "transform": [{"filter": "datum.panel === 'A'"}],
         "mark": {"type": "text", "fontSize": 20, "fontWeight": "bold", "align": "left", "baseline": "alphabetic", "dx": -56, "dy": -27, "color": "#000000"},
         "encoding": {"x": {"field": "group", "type": "nominal"}, "y": {"datum": 50, "axis": {"values": [0, 10, 20, 30, 40, 50], "labelOverlap": false, "title": ["NOS2 Expression", "(NOS2 / β - actin)"]}}, "text": {"field": "letter"}}}
      ]
    },
    {
      "width": 108, "height": 111,
      "title": {"text": "Kruskal-Wallis test: p-value = 0.002909", "dy": 29.5},
      "layer": [
        {"data": {"name": "summary"}, "transform": [{"filter": "datum.panel === 'B'"}],
         "mark": {"type": "bar", "filled": false, "stroke": "#555555", "strokeWidth": 1.3},
         "encoding": {
           "x": {"field": "group", "type": "nominal", "scale": {"domain": ["SA_IMI", "SA_SN", "SC_IMI", "SC_TA"], "paddingInner": 0.35, "paddingOuter": 0.25, "align": 0.78}, "axis": {"title": null}},
           "y": {"field": "mean", "type": "quantitative", "scale": {"domain": [-6, 4], "nice": false, "zero": false}, "axis": {"values": [-6, -4, -2, 0, 2, 4], "labelOverlap": false, "title": ["Arginase Expression", "(Arginase / β - actin)"]}},
           "y2": {"datum": 0}}},
        {"data": {"values": [{}]}, "mark": {"type": "rule", "color": "#111111", "strokeWidth": 1.4}, "encoding": {"y": {"datum": 0, "axis": {"values": [-6, -4, -2, 0, 2, 4], "labelOverlap": false, "title": ["Arginase Expression", "(Arginase / β - actin)"]}}}},
        {"data": {"name": "summary"}, "transform": [{"filter": "datum.panel === 'B'"}],
         "mark": {"type": "rule", "strokeWidth": 1.2, "opacity": 0.75},
         "encoding": {"x": {"field": "group", "type": "nominal"}, "y": {"field": "lo", "type": "quantitative", "axis": {"values": [-6, -4, -2, 0, 2, 4], "labelOverlap": false, "title": ["Arginase Expression", "(Arginase / β - actin)"]}}, "y2": {"field": "hi"},
           "color": {"field": "group", "type": "nominal", "legend": null}}},
        {"data": {"name": "summary"}, "transform": [{"filter": "datum.panel === 'B'"}, {"fold": ["lo", "hi"], "as": ["end", "level"]}],
         "mark": {"type": "tick", "size": 7, "thickness": 1.2, "opacity": 0.75},
         "encoding": {"x": {"field": "group", "type": "nominal"}, "y": {"field": "level", "type": "quantitative", "axis": {"values": [-6, -4, -2, 0, 2, 4], "labelOverlap": false, "title": ["Arginase Expression", "(Arginase / β - actin)"]}},
           "color": {"field": "group", "type": "nominal", "legend": null}}},
        {"data": {"name": "points"}, "transform": [{"filter": "datum.panel === 'B'"}, {"window": [{"op": "row_number", "as": "rep"}], "groupby": ["group"]}],
         "mark": {"type": "point", "filled": true, "size": 22, "opacity": 1},
         "encoding": {"x": {"field": "group", "type": "nominal"}, "xOffset": {"field": "rep", "type": "ordinal"},
           "y": {"field": "value", "type": "quantitative", "axis": {"values": [-6, -4, -2, 0, 2, 4], "labelOverlap": false, "title": ["Arginase Expression", "(Arginase / β - actin)"]}},
           "color": {"field": "group", "type": "nominal", "legend": null},
           "shape": {"field": "group", "type": "nominal", "legend": null}}},
        {"data": {"name": "legs"}, "transform": [{"filter": "datum.panel === 'B'"}],
         "mark": {"type": "rule", "color": "#5A5A5A", "strokeWidth": 1},
         "encoding": {"x": {"field": "group", "type": "nominal"}, "y": {"field": "top", "type": "quantitative", "axis": {"values": [-6, -4, -2, 0, 2, 4], "labelOverlap": false, "title": ["Arginase Expression", "(Arginase / β - actin)"]}}, "y2": {"field": "bottom"}}},
        {"data": {"name": "spans"}, "transform": [{"filter": "datum.panel === 'B'"}],
         "mark": {"type": "rule", "color": "#5A5A5A", "strokeWidth": 1},
         "encoding": {"x": {"field": "from", "type": "nominal"}, "x2": {"field": "to"}, "y": {"field": "y", "type": "quantitative", "axis": {"values": [-6, -4, -2, 0, 2, 4], "labelOverlap": false, "title": ["Arginase Expression", "(Arginase / β - actin)"]}}}},
        {"data": {"name": "spans"}, "transform": [{"filter": "datum.panel === 'B' && datum.span === 1"}],
         "mark": {"type": "text", "fontSize": 5.5, "baseline": "bottom", "dy": -1.5, "color": "#333333"},
         "encoding": {"x": {"field": "from", "type": "nominal", "bandPosition": 1.269}, "y": {"field": "y", "type": "quantitative", "axis": {"values": [-6, -4, -2, 0, 2, 4], "labelOverlap": false, "title": ["Arginase Expression", "(Arginase / β - actin)"]}}, "text": {"field": "label"}}},
        {"data": {"name": "spans"}, "transform": [{"filter": "datum.panel === 'B' && datum.span === 2"}],
         "mark": {"type": "text", "fontSize": 5.5, "baseline": "bottom", "dy": -1.5, "color": "#333333"},
         "encoding": {"x": {"field": "from", "type": "nominal", "bandPosition": 2.038}, "y": {"field": "y", "type": "quantitative", "axis": {"values": [-6, -4, -2, 0, 2, 4], "labelOverlap": false, "title": ["Arginase Expression", "(Arginase / β - actin)"]}}, "text": {"field": "label"}}},
        {"data": {"name": "letters"}, "transform": [{"filter": "datum.panel === 'B'"}],
         "mark": {"type": "text", "fontSize": 20, "fontWeight": "bold", "align": "left", "baseline": "alphabetic", "dx": -65, "dy": -27, "color": "#000000"},
         "encoding": {"x": {"field": "group", "type": "nominal"}, "y": {"datum": 4, "axis": {"values": [-6, -4, -2, 0, 2, 4], "labelOverlap": false, "title": ["Arginase Expression", "(Arginase / β - actin)"]}}, "text": {"field": "letter"}}}
      ]
    },
    {
      "width": 117, "height": 111,
      "title": {"text": "Kruskal-Wallis test: p-value < 0.0001", "dy": 29.5},
      "resolve": {"scale": {"y": "independent"}, "axis": {"y": "independent"}},
      "layer": [
        {"layer": [
          {"data": {"name": "summary"}, "transform": [{"filter": "datum.panel === 'C' && datum.hi > 300"}],
           "mark": {"type": "rule", "strokeWidth": 1.2, "opacity": 0.75},
           "encoding": {"x": {"field": "group", "type": "nominal"},
             "y": {"field": "hi", "type": "quantitative", "scale": {"domain": [300, 800], "range": [52, 0], "nice": false, "zero": false}, "axis": {"orient": "left", "values": [300, 400, 500, 600, 700, 800], "labelOverlap": false, "title": ["NO Production", "(µM of nitrite)"], "titleY": 55}},
             "y2": {"datum": 300},
             "color": {"field": "group", "type": "nominal", "legend": null}}},
          {"data": {"name": "summary"}, "transform": [{"filter": "datum.panel === 'C'"}, {"fold": ["lo", "hi"], "as": ["end", "level"]}, {"filter": "datum.level > 300"}],
           "mark": {"type": "tick", "size": 7, "thickness": 1.2, "opacity": 0.75},
           "encoding": {"x": {"field": "group", "type": "nominal"}, "y": {"field": "level", "type": "quantitative", "axis": {"orient": "left", "values": [300, 400, 500, 600, 700, 800], "labelOverlap": false, "title": ["NO Production", "(µM of nitrite)"], "titleY": 55}},
             "color": {"field": "group", "type": "nominal", "legend": null}}},
          {"data": {"name": "points"}, "transform": [{"filter": "datum.panel === 'C'"}, {"window": [{"op": "row_number", "as": "rep"}], "groupby": ["group"]}, {"filter": "datum.value >= 300"}],
           "mark": {"type": "point", "filled": true, "size": 22, "opacity": 1},
           "encoding": {"x": {"field": "group", "type": "nominal"}, "xOffset": {"field": "rep", "type": "ordinal", "scale": {"domain": [1, 2, 3, 4, 5, 6, 7, 8, 9, 10, 11, 12]}},
             "y": {"field": "value", "type": "quantitative", "axis": {"orient": "left", "values": [300, 400, 500, 600, 700, 800], "labelOverlap": false, "title": ["NO Production", "(µM of nitrite)"], "titleY": 55}},
             "color": {"field": "group", "type": "nominal", "legend": null},
             "shape": {"field": "group", "type": "nominal", "legend": null}}},
          {"data": {"name": "legs"}, "transform": [{"filter": "datum.panel === 'C' && datum.seg === 'upper'"}],
           "mark": {"type": "rule", "color": "#5A5A5A", "strokeWidth": 1},
           "encoding": {"x": {"field": "group", "type": "nominal"}, "y": {"field": "top", "type": "quantitative", "axis": {"orient": "left", "values": [300, 400, 500, 600, 700, 800], "labelOverlap": false, "title": ["NO Production", "(µM of nitrite)"], "titleY": 55}}, "y2": {"field": "bottom"}}},
          {"data": {"name": "spans"}, "transform": [{"filter": "datum.panel === 'C' && datum.seg === 'upper'"}],
           "mark": {"type": "rule", "color": "#5A5A5A", "strokeWidth": 1},
           "encoding": {"x": {"field": "from", "type": "nominal"}, "x2": {"field": "to"}, "y": {"field": "y", "type": "quantitative", "axis": {"orient": "left", "values": [300, 400, 500, 600, 700, 800], "labelOverlap": false, "title": ["NO Production", "(µM of nitrite)"], "titleY": 55}}}},
          {"data": {"name": "spans"}, "transform": [{"filter": "datum.panel === 'C' && datum.seg === 'upper' && datum.span === 2"}],
           "mark": {"type": "text", "fontSize": 5.5, "baseline": "bottom", "dy": -1.5, "color": "#333333"},
           "encoding": {"x": {"field": "from", "type": "nominal", "bandPosition": 2.038}, "y": {"field": "y", "type": "quantitative", "axis": {"orient": "left", "values": [300, 400, 500, 600, 700, 800], "labelOverlap": false, "title": ["NO Production", "(µM of nitrite)"], "titleY": 55}}, "text": {"field": "label"}}},
          {"data": {"name": "spans"}, "transform": [{"filter": "datum.panel === 'C' && datum.seg === 'upper' && datum.span === 3"}],
           "mark": {"type": "text", "fontSize": 5.5, "baseline": "bottom", "dy": -1.5, "color": "#333333"},
           "encoding": {"x": {"field": "from", "type": "nominal", "bandPosition": 2.808}, "y": {"field": "y", "type": "quantitative", "axis": {"orient": "left", "values": [300, 400, 500, 600, 700, 800], "labelOverlap": false, "title": ["NO Production", "(µM of nitrite)"], "titleY": 55}}, "text": {"field": "label"}}},
          {"data": {"name": "spans"}, "transform": [{"filter": "datum.panel === 'C' && datum.seg === 'upper' && datum.span === 4"}],
           "mark": {"type": "text", "fontSize": 5.5, "baseline": "bottom", "dy": -1.5, "color": "#333333"},
           "encoding": {"x": {"field": "from", "type": "nominal", "bandPosition": 3.577}, "y": {"field": "y", "type": "quantitative", "axis": {"orient": "left", "values": [300, 400, 500, 600, 700, 800], "labelOverlap": false, "title": ["NO Production", "(µM of nitrite)"], "titleY": 55}}, "text": {"field": "label"}}},
          {"data": {"name": "letters"}, "transform": [{"filter": "datum.panel === 'C'"}],
           "mark": {"type": "text", "fontSize": 20, "fontWeight": "bold", "align": "left", "baseline": "alphabetic", "dx": -65, "dy": -27, "color": "#000000"},
           "encoding": {"x": {"field": "group", "type": "nominal"}, "y": {"datum": 800, "axis": {"orient": "left", "values": [300, 400, 500, 600, 700, 800], "labelOverlap": false, "title": ["NO Production", "(µM of nitrite)"], "titleY": 55}}, "text": {"field": "letter"}}}
        ]},
        {"layer": [
          {"data": {"name": "summary"}, "transform": [{"filter": "datum.panel === 'C'"}],
           "mark": {"type": "bar", "filled": false, "stroke": "#555555", "strokeWidth": 1.3},
           "encoding": {
             "x": {"field": "group", "type": "nominal", "scale": {"domain": ["Control", "SA_IMI", "SA_SN", "SC_IMI", "SC_TA"], "paddingInner": 0.35, "paddingOuter": 0.49, "align": 0.7}, "axis": {"title": null}},
             "y": {"field": "mean", "type": "quantitative", "scale": {"domain": [-200, 300], "range": [111, 60], "nice": false, "zero": false}, "axis": {"orient": "left", "values": [-100, 0, 100, 200, 300], "labelOverlap": false, "title": null}},
             "y2": {"datum": 0}}},
          {"data": {"values": [{}]}, "mark": {"type": "rule", "color": "#111111", "strokeWidth": 1.4}, "encoding": {"y": {"datum": 0, "axis": {"orient": "left", "values": [-100, 0, 100, 200, 300], "labelOverlap": false, "title": null}}}},
          {"data": {"name": "summary"}, "transform": [{"filter": "datum.panel === 'C' && datum.hi > 300"}],
           "mark": {"type": "rule", "strokeWidth": 1.2, "opacity": 0.75},
           "encoding": {"x": {"field": "group", "type": "nominal"}, "y": {"field": "lo", "type": "quantitative", "axis": {"orient": "left", "values": [-100, 0, 100, 200, 300], "labelOverlap": false, "title": null}}, "y2": {"datum": 300},
             "color": {"field": "group", "type": "nominal", "legend": null}}},
          {"data": {"name": "summary"}, "transform": [{"filter": "datum.panel === 'C' && datum.hi <= 300"}],
           "mark": {"type": "rule", "strokeWidth": 1.2, "opacity": 0.75},
           "encoding": {"x": {"field": "group", "type": "nominal"}, "y": {"field": "lo", "type": "quantitative", "axis": {"orient": "left", "values": [-100, 0, 100, 200, 300], "labelOverlap": false, "title": null}}, "y2": {"field": "hi"},
             "color": {"field": "group", "type": "nominal", "legend": null}}},
          {"data": {"name": "summary"}, "transform": [{"filter": "datum.panel === 'C'"}, {"fold": ["lo", "hi"], "as": ["end", "level"]}, {"filter": "datum.level <= 300"}],
           "mark": {"type": "tick", "size": 7, "thickness": 1.2, "opacity": 0.75},
           "encoding": {"x": {"field": "group", "type": "nominal"}, "y": {"field": "level", "type": "quantitative", "axis": {"orient": "left", "values": [-100, 0, 100, 200, 300], "labelOverlap": false, "title": null}},
             "color": {"field": "group", "type": "nominal", "legend": null}}},
          {"data": {"name": "points"}, "transform": [{"filter": "datum.panel === 'C'"}, {"window": [{"op": "row_number", "as": "rep"}], "groupby": ["group"]}, {"filter": "datum.value < 300"}],
           "mark": {"type": "point", "filled": true, "size": 22, "opacity": 1},
           "encoding": {"x": {"field": "group", "type": "nominal"}, "xOffset": {"field": "rep", "type": "ordinal", "scale": {"domain": [1, 2, 3, 4, 5, 6, 7, 8, 9, 10, 11, 12]}},
             "y": {"field": "value", "type": "quantitative", "axis": {"orient": "left", "values": [-100, 0, 100, 200, 300], "labelOverlap": false, "title": null}},
             "color": {"field": "group", "type": "nominal", "legend": null},
             "shape": {"field": "group", "type": "nominal", "legend": null}}},
          {"data": {"name": "legs"}, "transform": [{"filter": "datum.panel === 'C' && datum.seg === 'lower'"}],
           "mark": {"type": "rule", "color": "#5A5A5A", "strokeWidth": 1},
           "encoding": {"x": {"field": "group", "type": "nominal"}, "y": {"field": "top", "type": "quantitative", "axis": {"orient": "left", "values": [-100, 0, 100, 200, 300], "labelOverlap": false, "title": null}}, "y2": {"field": "bottom"}}},
          {"data": {"name": "spans"}, "transform": [{"filter": "datum.panel === 'C' && datum.seg === 'lower'"}],
           "mark": {"type": "rule", "color": "#5A5A5A", "strokeWidth": 1},
           "encoding": {"x": {"field": "from", "type": "nominal"}, "x2": {"field": "to"}, "y": {"field": "y", "type": "quantitative", "axis": {"orient": "left", "values": [-100, 0, 100, 200, 300], "labelOverlap": false, "title": null}}}},
          {"data": {"name": "spans"}, "transform": [{"filter": "datum.panel === 'C' && datum.seg === 'lower' && datum.span === 2"}],
           "mark": {"type": "text", "fontSize": 5.5, "baseline": "bottom", "dy": -1.5, "color": "#333333"},
           "encoding": {"x": {"field": "from", "type": "nominal", "bandPosition": 2.038}, "y": {"field": "y", "type": "quantitative", "axis": {"orient": "left", "values": [-100, 0, 100, 200, 300], "labelOverlap": false, "title": null}}, "text": {"field": "label"}}}
        ]}
      ]
    },
    {
      "width": 118, "height": 111,
      "title": {"text": "Kruskal-Wallis test: p-value < 0.0001", "dy": 29.5},
      "layer": [
        {"data": {"name": "summary"}, "transform": [{"filter": "datum.panel === 'D'"}],
         "mark": {"type": "bar", "filled": false, "stroke": "#555555", "strokeWidth": 1.3},
         "encoding": {
           "x": {"field": "group", "type": "nominal", "scale": {"domain": ["SA_IMI", "SA_SN", "SC_IMI", "SC_TA"], "paddingInner": 0.35, "paddingOuter": 0.44, "align": 0.58}, "axis": {"title": null}},
           "y": {"field": "mean", "type": "quantitative", "scale": {"domain": [0, 15], "nice": false, "zero": false}, "axis": {"values": [0, 5, 10, 15], "labelOverlap": false, "title": ["NLRP3 Expression", "(NLRP3 / β-actin)"]}},
           "y2": {"datum": 0}}},
        {"data": {"name": "summary"}, "transform": [{"filter": "datum.panel === 'D'"}],
         "mark": {"type": "rule", "strokeWidth": 1.2, "opacity": 0.75},
         "encoding": {"x": {"field": "group", "type": "nominal"}, "y": {"field": "lo", "type": "quantitative", "axis": {"values": [0, 5, 10, 15], "labelOverlap": false, "title": ["NLRP3 Expression", "(NLRP3 / β-actin)"]}}, "y2": {"field": "hi"},
           "color": {"field": "group", "type": "nominal", "legend": null}}},
        {"data": {"name": "summary"}, "transform": [{"filter": "datum.panel === 'D'"}, {"fold": ["lo", "hi"], "as": ["end", "level"]}],
         "mark": {"type": "tick", "size": 7, "thickness": 1.2, "opacity": 0.75},
         "encoding": {"x": {"field": "group", "type": "nominal"}, "y": {"field": "level", "type": "quantitative", "axis": {"values": [0, 5, 10, 15], "labelOverlap": false, "title": ["NLRP3 Expression", "(NLRP3 / β-actin)"]}},
           "color": {"field": "group", "type": "nominal", "legend": null}}},
        {"data": {"name": "points"}, "transform": [{"filter": "datum.panel === 'D'"}, {"window": [{"op": "row_number", "as": "rep"}], "groupby": ["group"]}],
         "mark": {"type": "point", "filled": true, "size": 22, "opacity": 1},
         "encoding": {"x": {"field": "group", "type": "nominal"}, "xOffset": {"field": "rep", "type": "ordinal"},
           "y": {"field": "value", "type": "quantitative", "axis": {"values": [0, 5, 10, 15], "labelOverlap": false, "title": ["NLRP3 Expression", "(NLRP3 / β-actin)"]}},
           "color": {"field": "group", "type": "nominal", "legend": null},
           "shape": {"field": "group", "type": "nominal", "legend": null}}},
        {"data": {"name": "legs"}, "transform": [{"filter": "datum.panel === 'D'"}],
         "mark": {"type": "rule", "color": "#5A5A5A", "strokeWidth": 1},
         "encoding": {"x": {"field": "group", "type": "nominal"}, "y": {"field": "top", "type": "quantitative", "axis": {"values": [0, 5, 10, 15], "labelOverlap": false, "title": ["NLRP3 Expression", "(NLRP3 / β-actin)"]}}, "y2": {"field": "bottom"}}},
        {"data": {"name": "spans"}, "transform": [{"filter": "datum.panel === 'D'"}],
         "mark": {"type": "rule", "color": "#5A5A5A", "strokeWidth": 1},
         "encoding": {"x": {"field": "from", "type": "nominal"}, "x2": {"field": "to"}, "y": {"field": "y", "type": "quantitative", "axis": {"values": [0, 5, 10, 15], "labelOverlap": false, "title": ["NLRP3 Expression", "(NLRP3 / β-actin)"]}}}},
        {"data": {"name": "spans"}, "transform": [{"filter": "datum.panel === 'D' && datum.span === 1"}],
         "mark": {"type": "text", "fontSize": 5.5, "baseline": "bottom", "dy": -1.5, "color": "#333333"},
         "encoding": {"x": {"field": "from", "type": "nominal", "bandPosition": 1.269}, "y": {"field": "y", "type": "quantitative", "axis": {"values": [0, 5, 10, 15], "labelOverlap": false, "title": ["NLRP3 Expression", "(NLRP3 / β-actin)"]}}, "text": {"field": "label"}}},
        {"data": {"name": "spans"}, "transform": [{"filter": "datum.panel === 'D' && datum.span === 2"}],
         "mark": {"type": "text", "fontSize": 5.5, "baseline": "bottom", "dy": -1.5, "color": "#333333"},
         "encoding": {"x": {"field": "from", "type": "nominal", "bandPosition": 2.038}, "y": {"field": "y", "type": "quantitative", "axis": {"values": [0, 5, 10, 15], "labelOverlap": false, "title": ["NLRP3 Expression", "(NLRP3 / β-actin)"]}}, "text": {"field": "label"}}},
        {"data": {"name": "letters"}, "transform": [{"filter": "datum.panel === 'D'"}],
         "mark": {"type": "text", "fontSize": 20, "fontWeight": "bold", "align": "left", "baseline": "alphabetic", "dx": -74, "dy": -27, "color": "#000000"},
         "encoding": {"x": {"field": "group", "type": "nominal"}, "y": {"datum": 15, "axis": {"values": [0, 5, 10, 15], "labelOverlap": false, "title": ["NLRP3 Expression", "(NLRP3 / β-actin)"]}}, "text": {"field": "letter"}}}
      ]
    },
    {
      "width": 108, "height": 111,
      "title": {"text": "Kruskal-Wallis test: p-value = 0.0043", "dy": 13.5},
      "layer": [
        {"data": {"name": "summary"}, "transform": [{"filter": "datum.panel === 'E'"}],
         "mark": {"type": "bar", "filled": false, "stroke": "#555555", "strokeWidth": 1.3},
         "encoding": {
           "x": {"field": "group", "type": "nominal", "scale": {"domain": ["SA_IMI", "SA_SN", "SC_IMI", "SC_TA"], "paddingInner": 0.35, "paddingOuter": 0.285, "align": 0.9}, "axis": {"title": null}},
           "y": {"field": "mean", "type": "quantitative", "scale": {"domain": [0, 150], "nice": false, "zero": false}, "axis": {"values": [0, 50, 100, 150], "labelOverlap": false, "title": ["IL-1β Expression", "(IL-1β / β-actin)"]}},
           "y2": {"datum": 0}}},
        {"data": {"name": "summary"}, "transform": [{"filter": "datum.panel === 'E'"}],
         "mark": {"type": "rule", "strokeWidth": 1.2, "opacity": 0.75},
         "encoding": {"x": {"field": "group", "type": "nominal"}, "y": {"field": "lo", "type": "quantitative", "axis": {"values": [0, 50, 100, 150], "labelOverlap": false, "title": ["IL-1β Expression", "(IL-1β / β-actin)"]}}, "y2": {"field": "hi"},
           "color": {"field": "group", "type": "nominal", "legend": null}}},
        {"data": {"name": "summary"}, "transform": [{"filter": "datum.panel === 'E'"}, {"fold": ["lo", "hi"], "as": ["end", "level"]}],
         "mark": {"type": "tick", "size": 7, "thickness": 1.2, "opacity": 0.75},
         "encoding": {"x": {"field": "group", "type": "nominal"}, "y": {"field": "level", "type": "quantitative", "axis": {"values": [0, 50, 100, 150], "labelOverlap": false, "title": ["IL-1β Expression", "(IL-1β / β-actin)"]}},
           "color": {"field": "group", "type": "nominal", "legend": null}}},
        {"data": {"name": "points"}, "transform": [{"filter": "datum.panel === 'E'"}, {"window": [{"op": "row_number", "as": "rep"}], "groupby": ["group"]}],
         "mark": {"type": "point", "filled": true, "size": 22, "opacity": 1},
         "encoding": {"x": {"field": "group", "type": "nominal"}, "xOffset": {"field": "rep", "type": "ordinal"},
           "y": {"field": "value", "type": "quantitative", "axis": {"values": [0, 50, 100, 150], "labelOverlap": false, "title": ["IL-1β Expression", "(IL-1β / β-actin)"]}},
           "color": {"field": "group", "type": "nominal", "legend": null},
           "shape": {"field": "group", "type": "nominal", "legend": null}}},
        {"data": {"name": "legs"}, "transform": [{"filter": "datum.panel === 'E'"}],
         "mark": {"type": "rule", "color": "#5A5A5A", "strokeWidth": 1},
         "encoding": {"x": {"field": "group", "type": "nominal"}, "y": {"field": "top", "type": "quantitative", "axis": {"values": [0, 50, 100, 150], "labelOverlap": false, "title": ["IL-1β Expression", "(IL-1β / β-actin)"]}}, "y2": {"field": "bottom"}}},
        {"data": {"name": "spans"}, "transform": [{"filter": "datum.panel === 'E'"}],
         "mark": {"type": "rule", "color": "#5A5A5A", "strokeWidth": 1},
         "encoding": {"x": {"field": "from", "type": "nominal"}, "x2": {"field": "to"}, "y": {"field": "y", "type": "quantitative", "axis": {"values": [0, 50, 100, 150], "labelOverlap": false, "title": ["IL-1β Expression", "(IL-1β / β-actin)"]}}}},
        {"data": {"name": "spans"}, "transform": [{"filter": "datum.panel === 'E' && datum.span === 1"}],
         "mark": {"type": "text", "fontSize": 5.5, "baseline": "bottom", "dy": -1.5, "color": "#333333"},
         "encoding": {"x": {"field": "from", "type": "nominal", "bandPosition": 1.269}, "y": {"field": "y", "type": "quantitative", "axis": {"values": [0, 50, 100, 150], "labelOverlap": false, "title": ["IL-1β Expression", "(IL-1β / β-actin)"]}}, "text": {"field": "label"}}},
        {"data": {"name": "letters"}, "transform": [{"filter": "datum.panel === 'E'"}],
         "mark": {"type": "text", "fontSize": 20, "fontWeight": "bold", "align": "left", "baseline": "alphabetic", "dx": -62, "dy": -11, "color": "#000000"},
         "encoding": {"x": {"field": "group", "type": "nominal"}, "y": {"datum": 150, "axis": {"values": [0, 50, 100, 150], "labelOverlap": false, "title": ["IL-1β Expression", "(IL-1β / β-actin)"]}}, "text": {"field": "letter"}}}
      ]
    },
    {
      "width": 109, "height": 111,
      "title": {"text": "Kruskal-Wallis test: p-value = 0.0272", "dy": 18.5},
      "layer": [
        {"data": {"name": "summary"}, "transform": [{"filter": "datum.panel === 'F'"}],
         "mark": {"type": "bar", "filled": false, "stroke": "#555555", "strokeWidth": 1.3},
         "encoding": {
           "x": {"field": "group", "type": "nominal", "scale": {"domain": ["SA_IMI", "SA_SN", "SC_IMI", "SC_TA"], "paddingInner": 0.35, "paddingOuter": 0.28, "align": 0.41}, "axis": {"title": null}},
           "y": {"field": "mean", "type": "quantitative", "scale": {"domain": [-3, 2], "nice": false, "zero": false}, "axis": {"values": [-3, -2, -1, 0, 1, 2], "labelOverlap": false, "title": ["IL-18 Expression", "(IL-18 / β-actin)"]}},
           "y2": {"datum": 0}}},
        {"data": {"values": [{}]}, "mark": {"type": "rule", "color": "#111111", "strokeWidth": 1.4}, "encoding": {"y": {"datum": 0, "axis": {"values": [-3, -2, -1, 0, 1, 2], "labelOverlap": false, "title": ["IL-18 Expression", "(IL-18 / β-actin)"]}}}},
        {"data": {"name": "summary"}, "transform": [{"filter": "datum.panel === 'F'"}],
         "mark": {"type": "rule", "strokeWidth": 1.2, "opacity": 0.75},
         "encoding": {"x": {"field": "group", "type": "nominal"}, "y": {"field": "lo", "type": "quantitative", "axis": {"values": [-3, -2, -1, 0, 1, 2], "labelOverlap": false, "title": ["IL-18 Expression", "(IL-18 / β-actin)"]}}, "y2": {"field": "hi"},
           "color": {"field": "group", "type": "nominal", "legend": null}}},
        {"data": {"name": "summary"}, "transform": [{"filter": "datum.panel === 'F'"}, {"fold": ["lo", "hi"], "as": ["end", "level"]}],
         "mark": {"type": "tick", "size": 7, "thickness": 1.2, "opacity": 0.75},
         "encoding": {"x": {"field": "group", "type": "nominal"}, "y": {"field": "level", "type": "quantitative", "axis": {"values": [-3, -2, -1, 0, 1, 2], "labelOverlap": false, "title": ["IL-18 Expression", "(IL-18 / β-actin)"]}},
           "color": {"field": "group", "type": "nominal", "legend": null}}},
        {"data": {"name": "points"}, "transform": [{"filter": "datum.panel === 'F'"}, {"window": [{"op": "row_number", "as": "rep"}], "groupby": ["group"]}],
         "mark": {"type": "point", "filled": true, "size": 22, "opacity": 1},
         "encoding": {"x": {"field": "group", "type": "nominal"}, "xOffset": {"field": "rep", "type": "ordinal"},
           "y": {"field": "value", "type": "quantitative", "axis": {"values": [-3, -2, -1, 0, 1, 2], "labelOverlap": false, "title": ["IL-18 Expression", "(IL-18 / β-actin)"]}},
           "color": {"field": "group", "type": "nominal", "legend": null},
           "shape": {"field": "group", "type": "nominal", "legend": null}}},
        {"data": {"name": "legs"}, "transform": [{"filter": "datum.panel === 'F'"}],
         "mark": {"type": "rule", "color": "#5A5A5A", "strokeWidth": 1},
         "encoding": {"x": {"field": "group", "type": "nominal"}, "y": {"field": "top", "type": "quantitative", "axis": {"values": [-3, -2, -1, 0, 1, 2], "labelOverlap": false, "title": ["IL-18 Expression", "(IL-18 / β-actin)"]}}, "y2": {"field": "bottom"}}},
        {"data": {"name": "spans"}, "transform": [{"filter": "datum.panel === 'F'"}],
         "mark": {"type": "rule", "color": "#5A5A5A", "strokeWidth": 1},
         "encoding": {"x": {"field": "from", "type": "nominal"}, "x2": {"field": "to"}, "y": {"field": "y", "type": "quantitative", "axis": {"values": [-3, -2, -1, 0, 1, 2], "labelOverlap": false, "title": ["IL-18 Expression", "(IL-18 / β-actin)"]}}}},
        {"data": {"name": "spans"}, "transform": [{"filter": "datum.panel === 'F' && datum.span === 2"}],
         "mark": {"type": "text", "fontSize": 5.5, "baseline": "bottom", "dy": -1.5, "color": "#333333"},
         "encoding": {"x": {"field": "from", "type": "nominal", "bandPosition": 2.038}, "y": {"field": "y", "type": "quantitative", "axis": {"values": [-3, -2, -1, 0, 1, 2], "labelOverlap": false, "title": ["IL-18 Expression", "(IL-18 / β-actin)"]}}, "text": {"field": "label"}}},
        {"data": {"name": "letters"}, "transform": [{"filter": "datum.panel === 'F'"}],
         "mark": {"type": "text", "fontSize": 20, "fontWeight": "bold", "align": "left", "baseline": "alphabetic", "dx": -41, "dy": -16, "color": "#000000"},
         "encoding": {"x": {"field": "group", "type": "nominal"}, "y": {"datum": 2, "axis": {"values": [-3, -2, -1, 0, 1, 2], "labelOverlap": false, "title": ["IL-18 Expression", "(IL-18 / β-actin)"]}}, "text": {"field": "letter"}}}
      ]
    },
    {
      "width": 117, "height": 111,
      "title": {"text": "Kruskal-Wallis test: p-value < 0.0001", "dy": 14.5},
      "layer": [
        {"data": {"name": "summary"}, "transform": [{"filter": "datum.panel === 'G'"}],
         "mark": {"type": "bar", "filled": false, "stroke": "#555555", "strokeWidth": 1.3},
         "encoding": {
           "x": {"field": "group", "type": "nominal", "scale": {"domain": ["SA_IMI", "SA_SN", "SC_IMI", "SC_TA"], "paddingInner": 0.35, "paddingOuter": 0.4, "align": 0.45}, "axis": {"title": null}},
           "y": {"field": "mean", "type": "quantitative", "scale": {"domain": [-4, 2], "nice": false, "zero": false}, "axis": {"values": [-4, -3, -2, -1, 0, 1, 2], "labelOverlap": false, "title": ["Bax Expression", "(Bax /β-actin)"]}},
           "y2": {"datum": 0}}},
        {"data": {"values": [{}]}, "mark": {"type": "rule", "color": "#111111", "strokeWidth": 1.4}, "encoding": {"y": {"datum": 0, "axis": {"values": [-4, -3, -2, -1, 0, 1, 2], "labelOverlap": false, "title": ["Bax Expression", "(Bax /β-actin)"]}}}},
        {"data": {"name": "summary"}, "transform": [{"filter": "datum.panel === 'G'"}],
         "mark": {"type": "rule", "strokeWidth": 1.2, "opacity": 0.75},
         "encoding": {"x": {"field": "group", "type": "nominal"}, "y": {"field": "lo", "type": "quantitative", "axis": {"values": [-4, -3, -2, -1, 0, 1, 2], "labelOverlap": false, "title": ["Bax Expression", "(Bax /β-actin)"]}}, "y2": {"field": "hi"},
           "color": {"field": "group", "type": "nominal", "legend": null}}},
        {"data": {"name": "summary"}, "transform": [{"filter": "datum.panel === 'G'"}, {"fold": ["lo", "hi"], "as": ["end", "level"]}],
         "mark": {"type": "tick", "size": 7, "thickness": 1.2, "opacity": 0.75},
         "encoding": {"x": {"field": "group", "type": "nominal"}, "y": {"field": "level", "type": "quantitative", "axis": {"values": [-4, -3, -2, -1, 0, 1, 2], "labelOverlap": false, "title": ["Bax Expression", "(Bax /β-actin)"]}},
           "color": {"field": "group", "type": "nominal", "legend": null}}},
        {"data": {"name": "points"}, "transform": [{"filter": "datum.panel === 'G'"}, {"window": [{"op": "row_number", "as": "rep"}], "groupby": ["group"]}],
         "mark": {"type": "point", "filled": true, "size": 22, "opacity": 1},
         "encoding": {"x": {"field": "group", "type": "nominal"}, "xOffset": {"field": "rep", "type": "ordinal"},
           "y": {"field": "value", "type": "quantitative", "axis": {"values": [-4, -3, -2, -1, 0, 1, 2], "labelOverlap": false, "title": ["Bax Expression", "(Bax /β-actin)"]}},
           "color": {"field": "group", "type": "nominal", "legend": null},
           "shape": {"field": "group", "type": "nominal", "legend": null}}},
        {"data": {"name": "legs"}, "transform": [{"filter": "datum.panel === 'G'"}],
         "mark": {"type": "rule", "color": "#5A5A5A", "strokeWidth": 1},
         "encoding": {"x": {"field": "group", "type": "nominal"}, "y": {"field": "top", "type": "quantitative", "axis": {"values": [-4, -3, -2, -1, 0, 1, 2], "labelOverlap": false, "title": ["Bax Expression", "(Bax /β-actin)"]}}, "y2": {"field": "bottom"}}},
        {"data": {"name": "spans"}, "transform": [{"filter": "datum.panel === 'G'"}],
         "mark": {"type": "rule", "color": "#5A5A5A", "strokeWidth": 1},
         "encoding": {"x": {"field": "from", "type": "nominal"}, "x2": {"field": "to"}, "y": {"field": "y", "type": "quantitative", "axis": {"values": [-4, -3, -2, -1, 0, 1, 2], "labelOverlap": false, "title": ["Bax Expression", "(Bax /β-actin)"]}}}},
        {"data": {"name": "spans"}, "transform": [{"filter": "datum.panel === 'G' && datum.span === 1"}],
         "mark": {"type": "text", "fontSize": 5.5, "baseline": "bottom", "dy": -1.5, "color": "#333333"},
         "encoding": {"x": {"field": "from", "type": "nominal", "bandPosition": 1.269}, "y": {"field": "y", "type": "quantitative", "axis": {"values": [-4, -3, -2, -1, 0, 1, 2], "labelOverlap": false, "title": ["Bax Expression", "(Bax /β-actin)"]}}, "text": {"field": "label"}}},
        {"data": {"name": "spans"}, "transform": [{"filter": "datum.panel === 'G' && datum.span === 2"}],
         "mark": {"type": "text", "fontSize": 5.5, "baseline": "bottom", "dy": -1.5, "color": "#333333"},
         "encoding": {"x": {"field": "from", "type": "nominal", "bandPosition": 2.038}, "y": {"field": "y", "type": "quantitative", "axis": {"values": [-4, -3, -2, -1, 0, 1, 2], "labelOverlap": false, "title": ["Bax Expression", "(Bax /β-actin)"]}}, "text": {"field": "label"}}},
        {"data": {"name": "spans"}, "transform": [{"filter": "datum.panel === 'G' && datum.span === 3"}],
         "mark": {"type": "text", "fontSize": 5.5, "baseline": "bottom", "dy": -1.5, "color": "#333333"},
         "encoding": {"x": {"field": "from", "type": "nominal", "bandPosition": 2.808}, "y": {"field": "y", "type": "quantitative", "axis": {"values": [-4, -3, -2, -1, 0, 1, 2], "labelOverlap": false, "title": ["Bax Expression", "(Bax /β-actin)"]}}, "text": {"field": "label"}}},
        {"data": {"name": "letters"}, "transform": [{"filter": "datum.panel === 'G'"}],
         "mark": {"type": "text", "fontSize": 20, "fontWeight": "bold", "align": "left", "baseline": "alphabetic", "dx": -41, "dy": -12, "color": "#000000"},
         "encoding": {"x": {"field": "group", "type": "nominal"}, "y": {"datum": 2, "axis": {"values": [-4, -3, -2, -1, 0, 1, 2], "labelOverlap": false, "title": ["Bax Expression", "(Bax /β-actin)"]}}, "text": {"field": "letter"}}}
      ]
    },
    {
      "width": 114, "height": 111,
      "title": {"text": "Kruskal-Wallis test: p-value = 0.0735", "dy": 13.5},
      "layer": [
        {"data": {"name": "summary"}, "transform": [{"filter": "datum.panel === 'H'"}],
         "mark": {"type": "bar", "filled": false, "stroke": "#555555", "strokeWidth": 1.3},
         "encoding": {
           "x": {"field": "group", "type": "nominal", "scale": {"domain": ["SA_IMI", "SA_SN", "SC_IMI", "SC_TA"], "paddingInner": 0.35, "paddingOuter": 0.39, "align": 0.28}, "axis": {"title": null}},
           "y": {"field": "mean", "type": "quantitative", "scale": {"domain": [-4, 6], "nice": false, "zero": false}, "axis": {"values": [-4, -2, 0, 2, 4, 6], "labelOverlap": false, "title": ["Bax Expression", "(Bax /β-actin)"]}},
           "y2": {"datum": 0}}},
        {"data": {"values": [{}]}, "mark": {"type": "rule", "color": "#111111", "strokeWidth": 1.4}, "encoding": {"y": {"datum": 0, "axis": {"values": [-4, -2, 0, 2, 4, 6], "labelOverlap": false, "title": ["Bax Expression", "(Bax /β-actin)"]}}}},
        {"data": {"name": "summary"}, "transform": [{"filter": "datum.panel === 'H'"}],
         "mark": {"type": "rule", "strokeWidth": 1.2, "opacity": 0.75},
         "encoding": {"x": {"field": "group", "type": "nominal"}, "y": {"field": "lo", "type": "quantitative", "axis": {"values": [-4, -2, 0, 2, 4, 6], "labelOverlap": false, "title": ["Bax Expression", "(Bax /β-actin)"]}}, "y2": {"field": "hi"},
           "color": {"field": "group", "type": "nominal", "legend": null}}},
        {"data": {"name": "summary"}, "transform": [{"filter": "datum.panel === 'H'"}, {"fold": ["lo", "hi"], "as": ["end", "level"]}],
         "mark": {"type": "tick", "size": 7, "thickness": 1.2, "opacity": 0.75},
         "encoding": {"x": {"field": "group", "type": "nominal"}, "y": {"field": "level", "type": "quantitative", "axis": {"values": [-4, -2, 0, 2, 4, 6], "labelOverlap": false, "title": ["Bax Expression", "(Bax /β-actin)"]}},
           "color": {"field": "group", "type": "nominal", "legend": null}}},
        {"data": {"name": "points"}, "transform": [{"filter": "datum.panel === 'H'"}, {"window": [{"op": "row_number", "as": "rep"}], "groupby": ["group"]}],
         "mark": {"type": "point", "filled": true, "size": 22, "opacity": 1},
         "encoding": {"x": {"field": "group", "type": "nominal"}, "xOffset": {"field": "rep", "type": "ordinal"},
           "y": {"field": "value", "type": "quantitative", "axis": {"values": [-4, -2, 0, 2, 4, 6], "labelOverlap": false, "title": ["Bax Expression", "(Bax /β-actin)"]}},
           "color": {"field": "group", "type": "nominal", "legend": null},
           "shape": {"field": "group", "type": "nominal", "legend": null}}},
        {"data": {"name": "legs"}, "transform": [{"filter": "datum.panel === 'H'"}],
         "mark": {"type": "rule", "color": "#5A5A5A", "strokeWidth": 1},
         "encoding": {"x": {"field": "group", "type": "nominal"}, "y": {"field": "top", "type": "quantitative", "axis": {"values": [-4, -2, 0, 2, 4, 6], "labelOverlap": false, "title": ["Bax Expression", "(Bax /β-actin)"]}}, "y2": {"field": "bottom"}}},
        {"data": {"name": "spans"}, "transform": [{"filter": "datum.panel === 'H'"}],
         "mark": {"type": "rule", "color": "#5A5A5A", "strokeWidth": 1},
         "encoding": {"x": {"field": "from", "type": "nominal"}, "x2": {"field": "to"}, "y": {"field": "y", "type": "quantitative", "axis": {"values": [-4, -2, 0, 2, 4, 6], "labelOverlap": false, "title": ["Bax Expression", "(Bax /β-actin)"]}}}},
        {"data": {"name": "letters"}, "transform": [{"filter": "datum.panel === 'H'"}],
         "mark": {"type": "text", "fontSize": 20, "fontWeight": "bold", "align": "left", "baseline": "alphabetic", "dx": -36, "dy": -11, "color": "#000000"},
         "encoding": {"x": {"field": "group", "type": "nominal"}, "y": {"datum": 6, "axis": {"values": [-4, -2, 0, 2, 4, 6], "labelOverlap": false, "title": ["Bax Expression", "(Bax /β-actin)"]}}, "text": {"field": "letter"}}}
      ]
    }
  ],
  "config": {
    "view": {"stroke": null},
    "font": "Liberation Serif",
    "axis": {"grid": false, "domainColor": "#000000", "domainWidth": 1.4, "tickColor": "#000000", "tickWidth": 1.2, "tickSize": 3,
      "labelFont": "Liberation Serif", "labelFontSize": 8, "labelFontWeight": "bold", "labelColor": "#000000", "labelPadding": 1, "labelOverlap": false, "labelBound": false,
      "titleFont": "Liberation Serif", "titleFontSize": 8, "titleFontWeight": "bold", "titleColor": "#000000", "titlePadding": 7, "titleLineHeight": 8},
    "axisX": {"labelAngle": -45, "labelPadding": 2, "labelOverlap": false},
    "axisY": {"labelOverlap": false},
    "title": {"font": "Liberation Serif", "fontSize": 5.3, "fontWeight": "normal", "color": "#222222", "anchor": "middle", "frame": "group", "offset": 0, "baseline": "bottom"},
    "text": {"font": "Liberation Serif"}
  }
}
